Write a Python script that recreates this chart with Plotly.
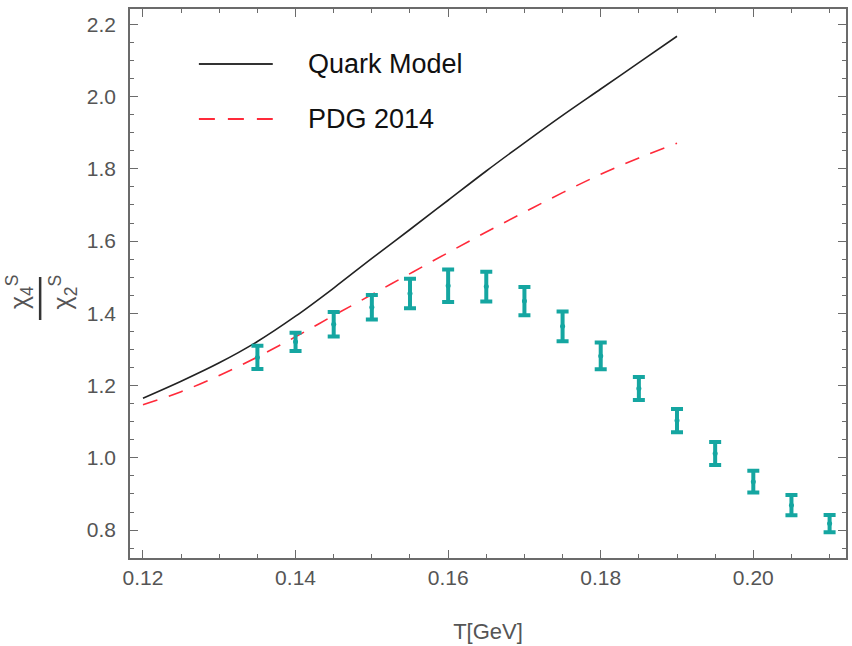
import plotly.graph_objects as go

# ---- data ----
T_curve = [0.120, 0.125, 0.130, 0.135, 0.140, 0.145, 0.150, 0.155, 0.160,
           0.165, 0.170, 0.175, 0.180, 0.185, 0.190]
quark_model = [1.165, 1.212, 1.263, 1.322, 1.392, 1.470, 1.552, 1.632, 1.713,
               1.794, 1.872, 1.948, 2.021, 2.094, 2.167]
pdg_2014 = [1.147, 1.183, 1.228, 1.279, 1.335, 1.394, 1.452, 1.510, 1.568,
            1.625, 1.680, 1.734, 1.785, 1.830, 1.871]

T_lat = [0.135, 0.140, 0.145, 0.150, 0.155, 0.160, 0.165, 0.170,
         0.175, 0.180, 0.185, 0.190, 0.195, 0.200, 0.205, 0.210]
chi_lat = [1.278, 1.321, 1.370, 1.417, 1.455, 1.476, 1.474, 1.434,
           1.364, 1.282, 1.192, 1.103, 1.012, 0.934, 0.869, 0.818]
chi_err = [0.032, 0.025, 0.034, 0.034, 0.041, 0.045, 0.041, 0.039,
           0.041, 0.037, 0.032, 0.032, 0.032, 0.030, 0.028, 0.024]

legend_labels = ["Quark Model", "PDG 2014"]
x_title = "T[GeV]"

FONT = "Liberation Sans, Arial, sans-serif"
TEAL = "#15A6A1"
RED = "#FF2A3A"
AXC = "#6b6b6b"
TXT = "#555555"

fig = go.Figure()
fig.add_trace(go.Scatter(x=T_curve, y=quark_model, mode="lines", line_shape="spline",
                         line=dict(color="#222222", width=1.6), name=legend_labels[0]))
fig.add_trace(go.Scatter(x=T_curve, y=pdg_2014, mode="lines", line_shape="spline",
                         line=dict(color=RED, width=1.6, dash="15px,12px"),
                         name=legend_labels[1]))
fig.add_trace(go.Scatter(x=T_lat, y=chi_lat, mode="markers",
                         marker=dict(color=TEAL, size=5),
                         error_y=dict(type="data", array=chi_err, color=TEAL,
                                      thickness=4, width=6)))

# manual legend (Mathematica style)
fig.add_shape(type="line", xref="paper", yref="paper", x0=0.0962, x1=0.1994,
              y0=0.8998, y1=0.8998, line=dict(color="#333333", width=2))
fig.add_shape(type="line", xref="paper", yref="paper", x0=0.0962, x1=0.1994,
              y0=0.7996, y1=0.7996, line=dict(color=RED, width=2, dash="16px,13px"))
fig.add_annotation(xref="paper", yref="paper", x=0.2465, y=0.8998, text=legend_labels[0],
                   showarrow=False, xanchor="left", yanchor="middle",
                   font=dict(family=FONT, size=27, color="#111111"))
fig.add_annotation(xref="paper", yref="paper", x=0.2465, y=0.7996, text=legend_labels[1],
                   showarrow=False, xanchor="left", yanchor="middle",
                   font=dict(family=FONT, size=27, color="#111111"))

# y-axis title as a rotated fraction chi4^S / chi2^S
fig.add_annotation(xref="paper", yref="paper", x=-0.1546, y=0.485,
                   text="χ<sub>4</sub><sup>S</sup>", textangle=-90, showarrow=False,
                   xanchor="center", yanchor="middle",
                   font=dict(family=FONT, size=25, color=TXT))
fig.add_annotation(xref="paper", yref="paper", x=-0.094, y=0.485,
                   text="χ<sub>2</sub><sup>S</sup>", textangle=-90, showarrow=False,
                   xanchor="center", yanchor="middle",
                   font=dict(family=FONT, size=25, color=TXT))
fig.add_shape(type="line", xref="paper", yref="paper", x0=-0.1255, x1=-0.1255,
              y0=0.4335, y1=0.5118, line=dict(color="#333333", width=2.5))

axis_common = dict(showline=True, linecolor=AXC, linewidth=1.5, mirror="allticks",
                   ticks="inside", ticklen=8, tickwidth=1.3, tickcolor=AXC,
                   showgrid=False, zeroline=False,
                   tickfont=dict(family=FONT, size=21, color=TXT))

fig.update_xaxes(range=[0.1183, 0.21215], tick0=0.12, dtick=0.02, tickformat=".2f",
                 minor=dict(ticks="inside", ticklen=4, tickcolor=AXC, tick0=0.12,
                            dtick=0.005, showgrid=False),
                 title=dict(text=x_title, font=dict(family=FONT, size=22, color=TXT),
                            standoff=36),
                 **axis_common)
fig.update_yaxes(range=[0.7227, 2.2424], tick0=0.8, dtick=0.2, tickformat=".1f",
                 minor=dict(ticks="inside", ticklen=4, tickcolor=AXC, tick0=0.8,
                            dtick=0.05, showgrid=False),
                 ticklabelstandoff=8,
                 **axis_common)

fig.update_layout(width=852, height=646, margin=dict(l=130, r=4, t=9, b=88),
                  plot_bgcolor="white", paper_bgcolor="white", showlegend=False)

fig.write_html("out.html")
